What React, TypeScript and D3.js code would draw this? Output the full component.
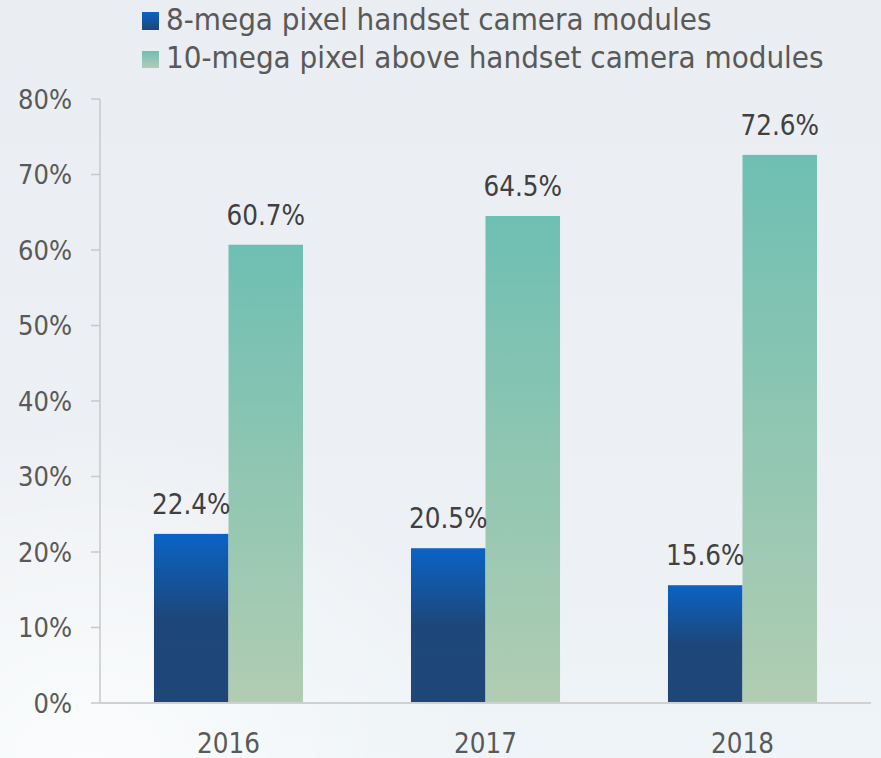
import React from "react";
import * as d3 from "d3";

const categories = ["2016", "2017", "2018"];
const series8mp = [22.4, 20.5, 15.6];
const series10mp = [60.7, 64.5, 72.6];
const seriesNames = ["8-mega pixel handset camera modules", "10-mega pixel above handset camera modules"];
const yTicks = [0, 10, 20, 30, 40, 50, 60, 70, 80];

const W = 881;
const H = 758;
const FONT = "'DejaVu Sans Condensed', 'DejaVu Sans', sans-serif";

export default function App() {
  const x0 = d3.scaleBand<string>().domain(categories).range([100, 871]).paddingInner(0.42).paddingOuter(0.21);
  const x1 = d3.scaleBand<string>().domain(["a", "b"]).range([0, x0.bandwidth()]);
  const y = d3.scaleLinear().domain([0, 80]).range([703, 99]);

  return (
    <svg width={W} height={H} style={{ position: "absolute", left: 0, top: 0 }} fontFamily={FONT}>
      <defs>
        <linearGradient id="bg" x1="0" y1="0" x2="0" y2="1">
          <stop offset="0" stopColor="#eaedf1" />
          <stop offset="0.7" stopColor="#edf0f4" />
          <stop offset="1" stopColor="#eef4f7" />
        </linearGradient>
        <radialGradient id="glow" cx="0.1" cy="1" r="0.45">
          <stop offset="0" stopColor="#ffffff" stopOpacity="0.75" />
          <stop offset="1" stopColor="#ffffff" stopOpacity="0" />
        </radialGradient>
        <linearGradient id="blue" x1="0" y1="0" x2="0" y2="1">
          <stop offset="0" stopColor="#0a63c6" />
          <stop offset="0.5" stopColor="#1d477b" />
          <stop offset="1" stopColor="#1f4677" />
        </linearGradient>
        <linearGradient id="green" x1="0" y1="0" x2="0" y2="1">
          <stop offset="0" stopColor="#6ebfb3" />
          <stop offset="1" stopColor="#b1cdb2" />
        </linearGradient>
        <linearGradient id="legBlue" x1="0" y1="0" x2="0" y2="1">
          <stop offset="0" stopColor="#0a63c6" />
          <stop offset="1" stopColor="#1f4677" />
        </linearGradient>
        <linearGradient id="legGreen" x1="0" y1="0" x2="0" y2="1">
          <stop offset="0" stopColor="#6ebfb3" />
          <stop offset="1" stopColor="#b1cdb2" />
        </linearGradient>
      </defs>
      <rect x={0} y={0} width={W} height={H} fill="url(#bg)" />
      <rect x={0} y={0} width={W} height={H} fill="url(#glow)" />

      {/* legend */}
      <rect x={142} y={12} width={17} height={18} fill="url(#legBlue)" />
      <text x={166} y={30} fontSize={31} fill="#595959">{seriesNames[0]}</text>
      <rect x={142} y={51} width={17} height={17} fill="url(#legGreen)" />
      <text x={166} y={68} fontSize={31} fill="#595959">{seriesNames[1]}</text>

      {/* y axis */}
      <line x1={100} x2={100} y1={y(80)} y2={y(0)} stroke="#c8c8c8" strokeWidth={1.5} />
      {yTicks.map((t) => (
        <g key={t}>
          <line x1={91} x2={100} y1={y(t)} y2={y(t)} stroke="#c8c8c8" strokeWidth={1.5} />
          <text x={72} y={y(t) + 9.5} textAnchor="end" fontSize={27} fill="#595959">{t}%</text>
        </g>
      ))}

      {/* bars */}
      {categories.map((c, i) => {
        const bx = x0(c)!;
        const a = series8mp[i];
        const b = series10mp[i];
        return (
          <g key={c}>
            <rect x={bx + x1("a")!} y={y(a)} width={x1.bandwidth()} height={y(0) - y(a)} fill="url(#blue)" />
            <rect x={bx + x1("b")!} y={y(b)} width={x1.bandwidth()} height={y(0) - y(b)} fill="url(#green)" />
            <text x={bx + x1("a")! + x1.bandwidth() / 2} y={y(a) - 20} textAnchor="middle" fontSize={27.5} fill="#404040">{a.toFixed(1)}%</text>
            <text x={bx + x1("b")! + x1.bandwidth() / 2} y={y(b) - 20} textAnchor="middle" fontSize={27.5} fill="#404040">{b.toFixed(1)}%</text>
            <text x={bx + x0.bandwidth() / 2} y={753} textAnchor="middle" fontSize={27.5} fill="#595959">{c}</text>
          </g>
        );
      })}

      {/* x axis */}
      <line x1={100} x2={871} y1={y(0)} y2={y(0)} stroke="#d0d0d0" strokeWidth={2} />
    </svg>
  );
}
